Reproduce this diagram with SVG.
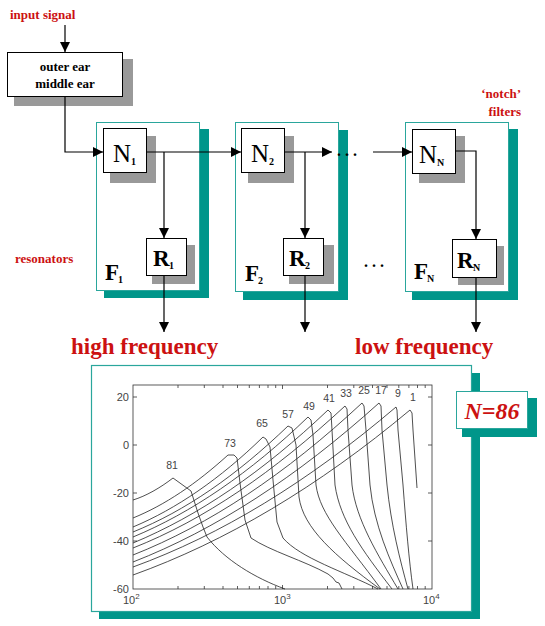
<svg xmlns="http://www.w3.org/2000/svg" width="545" height="626" viewBox="0 0 545 626">
<defs>
<marker id="ah" markerUnits="userSpaceOnUse" markerWidth="11" markerHeight="11" refX="10" refY="5" orient="auto">
<path d="M0,0 L10,5 L0,10 z" fill="#000"/>
</marker>
<style>
.red{font-family:"Liberation Serif",serif;font-weight:bold;fill:#cc1111}
.lbl{font-family:"Liberation Serif",serif;font-weight:bold;font-size:13px;fill:#000}
.nt{font-family:"Liberation Serif",serif;font-size:25px;fill:#000}
.rt{font-family:"Liberation Serif",serif;font-weight:bold;font-size:23px;fill:#000}
.sub{font-family:"Liberation Serif",serif;font-weight:bold;font-size:10px;fill:#000}
.box{fill:#fff;stroke:#000;stroke-width:1}
.shd{fill:#999}
.tsh{fill:#00968a}
.cont{fill:#fff;stroke:#2aa69c;stroke-width:1}
.con{fill:none;stroke:#000;stroke-width:1.2}
.ax{fill:none;stroke:#333;stroke-width:0.8}
.cv{fill:none;stroke:#222;stroke-width:0.8}
.num{font-family:"Liberation Sans",sans-serif;font-size:11px;fill:#444}
.cl{font-family:"Liberation Sans",sans-serif;font-size:10.5px;fill:#444}
.dots{font-family:"Liberation Serif",serif;font-weight:bold;font-size:16px;fill:#000}
</style>
</defs>

<rect width="545" height="626" fill="#fff"/>

<g id="labels">
<text class="red" x="10" y="19" font-size="13">input signal</text>
<text class="red" x="15" y="263" font-size="13">resonators</text>
<text class="red" x="521" y="98" font-size="13" text-anchor="end">‘notch’</text>
<text class="red" x="521" y="116" font-size="13" text-anchor="end">filters</text>
<text class="red" x="71" y="354" font-size="23">high frequency</text>
<text class="red" x="355" y="354" font-size="23">low frequency</text>
</g>

<g id="container-F1">
<rect class="tsh" x="104" y="129" width="105" height="169"/>
<rect class="cont" x="96.5" y="122.5" width="103" height="168"/>
<text class="rt" x="105" y="280">F</text><text class="sub" x="118" y="283">1</text>
</g>
<g id="container-F2">
<rect class="tsh" x="243" y="130" width="105" height="170"/>
<rect class="cont" x="235.5" y="122.5" width="103" height="169"/>
<text class="rt" x="245" y="281">F</text><text class="sub" x="258" y="284">2</text>
</g>
<g id="container-FN">
<rect class="tsh" x="412" y="129" width="106" height="171"/>
<rect class="cont" x="405.5" y="122.5" width="103" height="169"/>
<text class="rt" x="414" y="279">F</text><text class="sub" x="427" y="282">N</text>
</g>

<g id="outer-middle-ear">
<rect class="shd" x="14" y="59" width="119" height="47"/>
<rect class="box" x="7.5" y="52.5" width="115" height="44"/>
<text class="lbl" x="65" y="71" text-anchor="middle">outer ear</text>
<text class="lbl" x="65" y="88" text-anchor="middle">middle ear</text>
</g>

<g id="N1">
<rect class="shd" x="110" y="136" width="46" height="47"/>
<rect class="box" x="103.5" y="128.5" width="43" height="44"/>
<text class="nt" x="113" y="162">N</text><text class="sub" x="131" y="165">1</text>
</g>
<g id="N2">
<rect class="shd" x="248" y="136" width="46" height="47"/>
<rect class="box" x="241.5" y="128.5" width="43" height="44"/>
<text class="nt" x="251" y="162">N</text><text class="sub" x="269" y="165">2</text>
</g>
<g id="NN">
<rect class="shd" x="419" y="136" width="46" height="47"/>
<rect class="box" x="412.5" y="129.5" width="43" height="44"/>
<text class="nt" x="419" y="163">N</text><text class="sub" x="437" y="166">N</text>
</g>

<g id="R1">
<rect class="shd" x="152" y="245" width="43" height="39"/>
<rect class="box" x="146.5" y="238.5" width="40" height="37"/>
<text class="rt" x="153" y="266">R</text><text class="sub" x="169" y="269">1</text>
</g>
<g id="R2">
<rect class="shd" x="289" y="245" width="45" height="39"/>
<rect class="box" x="283.5" y="238.5" width="40" height="37"/>
<text class="rt" x="289" y="266">R</text><text class="sub" x="305" y="269">2</text>
</g>
<g id="RN">
<rect class="shd" x="458" y="246" width="46" height="39"/>
<rect class="box" x="452.5" y="239.5" width="44" height="38"/>
<text class="rt" x="457" y="268">R</text><text class="sub" x="473" y="271">N</text>
</g>

<g id="connectors">
<line class="con" x1="65" y1="25" x2="65" y2="52" marker-end="url(#ah)"/>
<polyline class="con" points="65,97 65,152 103,152" marker-end="url(#ah)"/>
<line class="con" x1="147" y1="152" x2="241" y2="152" marker-end="url(#ah)"/>
<line class="con" x1="164" y1="152" x2="164" y2="238" marker-end="url(#ah)"/>
<line class="con" x1="164" y1="276" x2="164" y2="332" marker-end="url(#ah)"/>
<line class="con" x1="285" y1="152" x2="332" y2="152" marker-end="url(#ah)"/>
<line class="con" x1="305" y1="152" x2="305" y2="238" marker-end="url(#ah)"/>
<line class="con" x1="305" y1="276" x2="305" y2="332" marker-end="url(#ah)"/>
<line class="con" x1="373" y1="152" x2="412" y2="152" marker-end="url(#ah)"/>
<polyline class="con" points="456,151 476,151 476,239" marker-end="url(#ah)"/>
<line class="con" x1="476" y1="278" x2="476" y2="332" marker-end="url(#ah)"/>
<text class="dots" x="337" y="156">. . .</text>
<text class="dots" x="364" y="267">. . .</text>
</g>

<g id="graph-panel">
<rect class="tsh" x="99" y="373" width="381" height="246"/>
<rect x="91.5" y="365.5" width="380" height="246" fill="#fff" stroke="#2aa69c" stroke-width="1.2"/>

<rect class="ax" x="133" y="385" width="299" height="204"/>
<path class="ax" d="M133,397h4M133,445h4M133,493h4M133,541h4M432,397h-4M432,445h-4M432,493h-4M432,541h-4
M178,589v-3M204.3,589v-3M223,589v-3M237.5,589v-3M249.3,589v-3M259.4,589v-3M268,589v-3M275.7,589v-3M282.5,589v-4
M327.5,589v-3M353.8,589v-3M372.5,589v-3M387,589v-3M398.8,589v-3M408.9,589v-3M417.5,589v-3M425.2,589v-3
M178,385v3M204.3,385v3M223,385v3M237.5,385v3M249.3,385v3M259.4,385v3M268,385v3M275.7,385v3M282.5,385v4
M327.5,385v3M353.8,385v3M372.5,385v3M387,385v3M398.8,385v3M408.9,385v3M417.5,385v3M425.2,385v3"/>

<text class="num" x="129" y="401" text-anchor="end">20</text>
<text class="num" x="129" y="449" text-anchor="end">0</text>
<text class="num" x="129" y="497" text-anchor="end">-20</text>
<text class="num" x="129" y="545" text-anchor="end">-40</text>
<text class="num" x="129" y="593" text-anchor="end">-60</text>
<text class="num" x="123" y="604">10<tspan font-size="8" dy="-5">2</tspan></text>
<text class="num" x="274" y="604">10<tspan font-size="8" dy="-5">3</tspan></text>
<text class="num" x="423" y="604">10<tspan font-size="8" dy="-5">4</tspan></text>

<path class="cv" d="M133,500 C146,496 160,488 173,478 L191,491 L198,513 L203,527 L207,537 C225,560 255,578 285,589"/>
<path class="cv" d="M133,518 C165,505 196,484 228,455 L234,455 L237,458 L240,483 L245,520 L251,538 C270,551 305,561 328,574 L333,578 L336,582 L339,583 L342,589"/>
<path class="cv" d="M133,527 C176,509 220,479 263,437 L266,439 L270,447 L273,480 L277,522 L283,538 C300,558 345,572 378,589"/>
<path class="cv" d="M133,532 C185,511 236,476 288,426 L292,428 L296,445 L299,497 C303,528 335,556 380,589"/>
<path class="cv" d="M133,537 C191,513 250,473 308,417 L311,420 L313,435 L316,485 C320,515 345,540 381,589"/>
<path class="cv" d="M133,543 C198,516 263,472 328,410 L331,413 L332,430 L335,485 C340,520 362,550 392,589"/>
<path class="cv" d="M133,548 C204,520 274,472 345,406 L347,409 L348,430 L352,485 C356,520 378,555 398,589"/>
<path class="cv" d="M133,555 C209,525 286,474 362,403 L364,406 L366,430 L370,485 C374,525 390,560 403,589"/>
<path class="cv" d="M133,562 C215,530 297,477 379,403 L381,406 L382,430 L387,485 C391,525 400,560 408,589"/>
<path class="cv" d="M133,567 C221,535 308,482 396,407 L397,410 L398,430 L403,485 C406,525 409,560 413,589"/>
<path class="cv" d="M133,575 C225,542 318,487 410,410 L412,413 L413,430 L417,488"/>

<text class="cl" x="172" y="469" text-anchor="middle">81</text>
<text class="cl" x="230" y="447" text-anchor="middle">73</text>
<text class="cl" x="262" y="427" text-anchor="middle">65</text>
<text class="cl" x="288" y="418" text-anchor="middle">57</text>
<text class="cl" x="309" y="410" text-anchor="middle">49</text>
<text class="cl" x="329" y="402" text-anchor="middle">41</text>
<text class="cl" x="346" y="397" text-anchor="middle">33</text>
<text class="cl" x="364" y="394" text-anchor="middle">25</text>
<text class="cl" x="381" y="394" text-anchor="middle">17</text>
<text class="cl" x="398" y="397" text-anchor="middle">9</text>
<text class="cl" x="413" y="401" text-anchor="middle">1</text>
</g>

<g id="N86">
<rect class="tsh" x="462" y="398" width="75" height="39"/>
<rect x="456.5" y="391.5" width="71" height="37" fill="#fff" stroke="#2aa69c" stroke-width="1"/>
<text class="red" x="492" y="419" font-size="24" font-style="italic" text-anchor="middle">N=86</text>
</g>
</svg>
